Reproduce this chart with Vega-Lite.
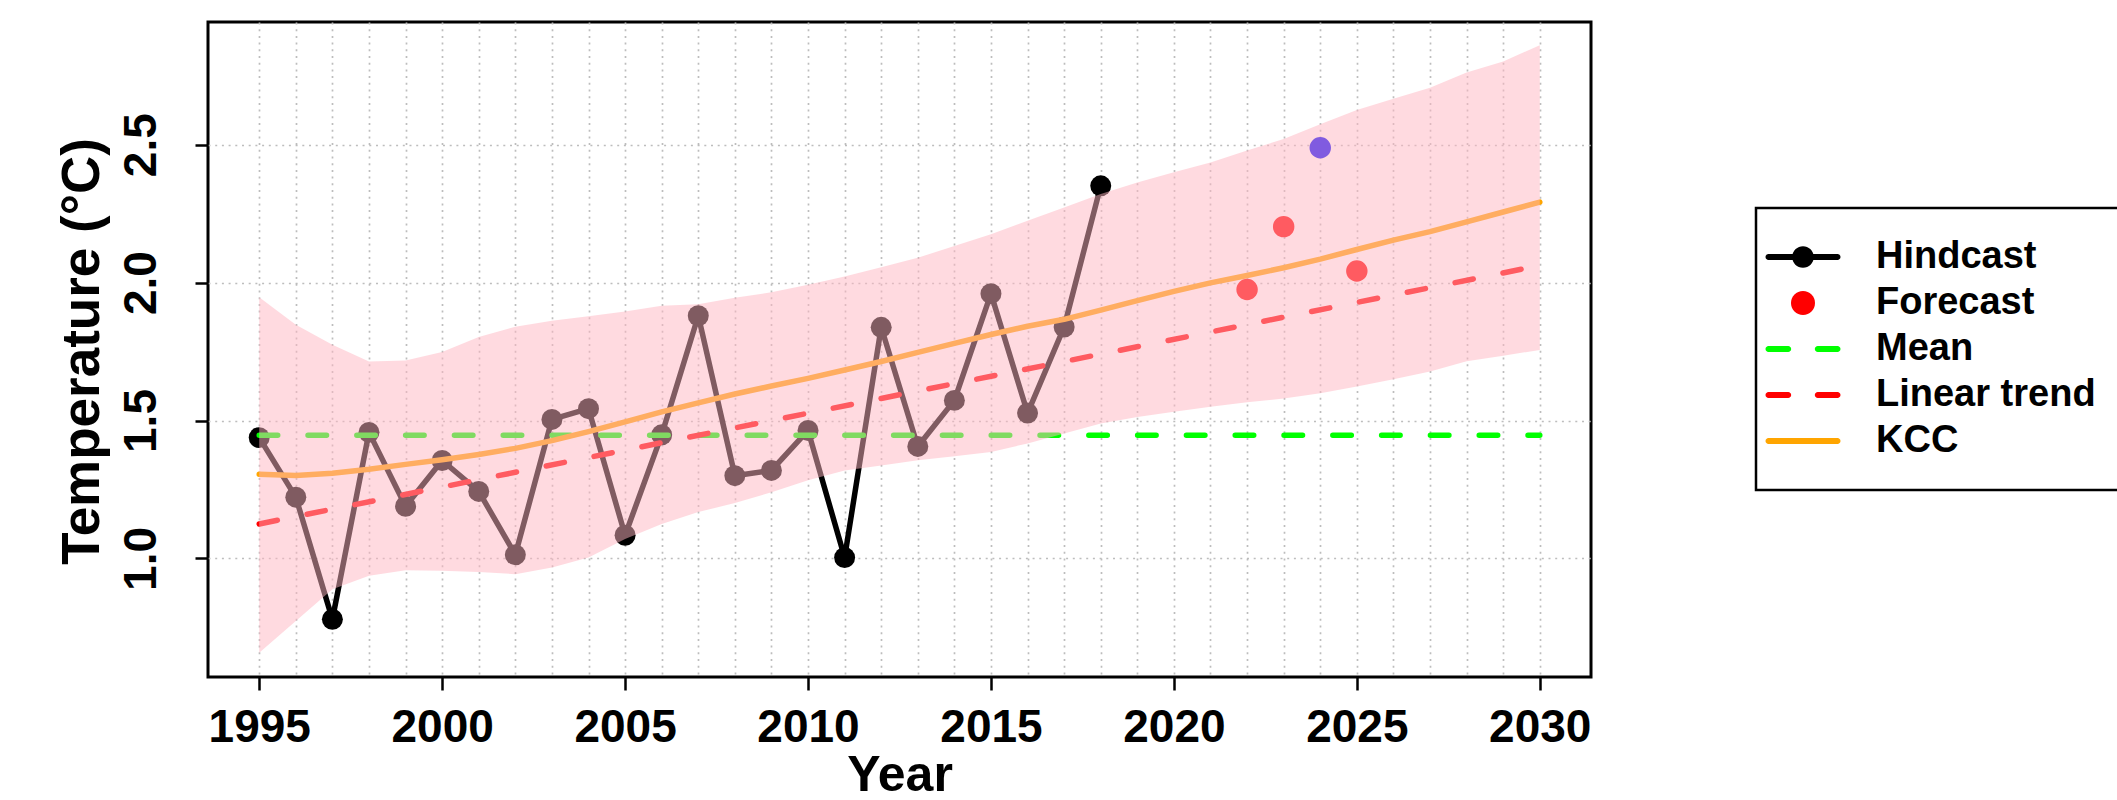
{
  "$schema": "https://vega.github.io/schema/vega-lite/v6.json",
  "width": 1383,
  "height": 655,
  "autosize": {"type": "none"},
  "padding": {"left": 208, "top": 22, "right": 526, "bottom": 123},
  "background": "white",
  "datasets": {
    "hind": [
      {"year": 1995, "temp": 1.438}, {"year": 1996, "temp": 1.222}, {"year": 1997, "temp": 0.779},
      {"year": 1998, "temp": 1.457}, {"year": 1999, "temp": 1.189}, {"year": 2000, "temp": 1.355},
      {"year": 2001, "temp": 1.243}, {"year": 2002, "temp": 1.013}, {"year": 2003, "temp": 1.504},
      {"year": 2004, "temp": 1.543}, {"year": 2005, "temp": 1.084}, {"year": 2006, "temp": 1.448},
      {"year": 2007, "temp": 1.880}, {"year": 2008, "temp": 1.300}, {"year": 2009, "temp": 1.319},
      {"year": 2010, "temp": 1.464}, {"year": 2011, "temp": 1.003}, {"year": 2012, "temp": 1.838},
      {"year": 2013, "temp": 1.406}, {"year": 2014, "temp": 1.573}, {"year": 2015, "temp": 1.960},
      {"year": 2016, "temp": 1.527}, {"year": 2017, "temp": 1.839}, {"year": 2018, "temp": 2.351}
    ],
    "fc": [
      {"year": 2022, "temp": 1.975, "type": "Forecast"},
      {"year": 2023, "temp": 2.203, "type": "Forecast"},
      {"year": 2024, "temp": 2.489, "type": "Observed"},
      {"year": 2025, "temp": 2.042, "type": "Forecast"}
    ],
    "mean": [{"year": 1995, "temp": 1.447}, {"year": 2030, "temp": 1.447}],
    "trend": [{"year": 1995, "temp": 1.125}, {"year": 2030, "temp": 2.062}],
    "kcc": [
      {"year": 1995, "fit": 1.305, "lo": 0.658, "hi": 1.947},
      {"year": 1996, "fit": 1.301, "lo": 0.773, "hi": 1.847},
      {"year": 1997, "fit": 1.309, "lo": 0.888, "hi": 1.775},
      {"year": 1998, "fit": 1.323, "lo": 0.937, "hi": 1.714},
      {"year": 1999, "fit": 1.341, "lo": 0.957, "hi": 1.718},
      {"year": 2000, "fit": 1.358, "lo": 0.955, "hi": 1.748},
      {"year": 2001, "fit": 1.377, "lo": 0.951, "hi": 1.803},
      {"year": 2002, "fit": 1.399, "lo": 0.943, "hi": 1.840},
      {"year": 2003, "fit": 1.427, "lo": 0.967, "hi": 1.862},
      {"year": 2004, "fit": 1.460, "lo": 1.003, "hi": 1.878},
      {"year": 2005, "fit": 1.495, "lo": 1.070, "hi": 1.895},
      {"year": 2006, "fit": 1.531, "lo": 1.125, "hi": 1.916},
      {"year": 2007, "fit": 1.564, "lo": 1.168, "hi": 1.922},
      {"year": 2008, "fit": 1.596, "lo": 1.201, "hi": 1.945},
      {"year": 2009, "fit": 1.625, "lo": 1.240, "hi": 1.965},
      {"year": 2010, "fit": 1.653, "lo": 1.283, "hi": 1.992},
      {"year": 2011, "fit": 1.683, "lo": 1.319, "hi": 2.022},
      {"year": 2012, "fit": 1.714, "lo": 1.337, "hi": 2.056},
      {"year": 2013, "fit": 1.747, "lo": 1.356, "hi": 2.090},
      {"year": 2014, "fit": 1.780, "lo": 1.370, "hi": 2.133},
      {"year": 2015, "fit": 1.812, "lo": 1.386, "hi": 2.175},
      {"year": 2016, "fit": 1.842, "lo": 1.417, "hi": 2.224},
      {"year": 2017, "fit": 1.867, "lo": 1.453, "hi": 2.272},
      {"year": 2018, "fit": 1.900, "lo": 1.489, "hi": 2.321},
      {"year": 2019, "fit": 1.935, "lo": 1.513, "hi": 2.363},
      {"year": 2020, "fit": 1.968, "lo": 1.532, "hi": 2.400},
      {"year": 2021, "fit": 1.999, "lo": 1.550, "hi": 2.436},
      {"year": 2022, "fit": 2.026, "lo": 1.566, "hi": 2.479},
      {"year": 2023, "fit": 2.054, "lo": 1.580, "hi": 2.521},
      {"year": 2024, "fit": 2.085, "lo": 1.599, "hi": 2.574},
      {"year": 2025, "fit": 2.120, "lo": 1.623, "hi": 2.626},
      {"year": 2026, "fit": 2.154, "lo": 1.650, "hi": 2.667},
      {"year": 2027, "fit": 2.185, "lo": 1.678, "hi": 2.707},
      {"year": 2028, "fit": 2.220, "lo": 1.715, "hi": 2.762},
      {"year": 2029, "fit": 2.256, "lo": 1.735, "hi": 2.802},
      {"year": 2030, "fit": 2.292, "lo": 1.756, "hi": 2.861}
    ],
    "leg": [
      {"series": "Hindcast"}, {"series": "Forecast"}, {"series": "Mean"},
      {"series": "Linear trend"}, {"series": "KCC"}
    ]
  },
  "encoding": {
    "x": {
      "field": "year", "type": "quantitative",
      "scale": {"domain": [1993.6, 2031.4], "nice": false, "zero": false},
      "axis": {
        "values": [1995, 1996, 1997, 1998, 1999, 2000, 2001, 2002, 2003, 2004, 2005, 2006, 2007, 2008, 2009, 2010, 2011, 2012, 2013, 2014, 2015, 2016, 2017, 2018, 2019, 2020, 2021, 2022, 2023, 2024, 2025, 2026, 2027, 2028, 2029, 2030],
        "format": "d",
        "labelExpr": "datum.value % 5 === 0 ? datum.label : ''",
        "tickOpacity": {"condition": {"test": "datum.value % 5 === 0", "value": 1}, "value": 0},
        "grid": true,
        "tickSize": 13,
        "labelPadding": 15,
        "title": "Year",
        "titleX": 691.5,
        "titleY": 123,
        "titleBaseline": "bottom",
        "titleFontSize": 50
      }
    },
    "y": {
      "field": "temp", "type": "quantitative",
      "scale": {"domain": [0.57, 2.945], "nice": false, "zero": false},
      "axis": {
        "values": [1.0, 1.5, 2.0, 2.5],
        "format": ".1f",
        "grid": true,
        "tickSize": 13,
        "labelAngle": 270,
        "labelAlign": "center",
        "labelBaseline": "alphabetic",
        "labelPadding": 40,
        "title": "Temperature (°C)",
        "titleAngle": 270,
        "titleX": -110,
        "titleY": 329,
        "titleBaseline": "alphabetic",
        "titleFontSize": 53
      }
    }
  },
  "layer": [
    {
      "data": {"name": "hind"},
      "mark": {"type": "line", "color": "black", "strokeWidth": 5.5, "strokeCap": "round", "strokeJoin": "round"}
    },
    {
      "data": {"name": "hind"},
      "mark": {"type": "circle", "color": "black", "size": 440, "opacity": 1}
    },
    {
      "data": {"name": "mean"},
      "mark": {"type": "line", "color": "#00ff00", "strokeWidth": 5.5, "strokeCap": "round", "strokeDash": [18.5, 30.3]}
    },
    {
      "data": {"name": "trend"},
      "mark": {"type": "line", "color": "#ff0000", "strokeWidth": 5.5, "strokeCap": "round", "strokeDash": [18.5, 30.3]}
    },
    {
      "data": {"name": "kcc"},
      "mark": {"type": "line", "color": "#ffa500", "strokeWidth": 5.5, "strokeCap": "round", "strokeJoin": "round"},
      "encoding": {"y": {"field": "fit", "type": "quantitative"}}
    },
    {
      "data": {"name": "fc"},
      "transform": [{"filter": "datum.type === 'Forecast'"}],
      "mark": {"type": "circle", "color": "#ff0000", "size": 460, "opacity": 1}
    },
    {
      "data": {"name": "fc"},
      "transform": [{"filter": "datum.type === 'Observed'"}],
      "mark": {"type": "circle", "color": "#0000ff", "size": 460, "opacity": 1}
    },
    {
      "data": {"name": "kcc"},
      "mark": {"type": "area", "color": "#ffb6c1", "opacity": 0.5},
      "encoding": {
        "y": {"field": "hi", "type": "quantitative"},
        "y2": {"field": "lo"}
      }
    },
    {
      "data": {"name": "leg"},
      "mark": {"type": "point", "filled": true, "opacity": 1},
      "encoding": {
        "color": {
          "field": "series", "type": "nominal",
          "scale": {"domain": ["Hindcast", "Forecast", "Mean", "Linear trend", "KCC"], "range": ["#000000", "#ff0000", "#00ff00", "#ff0000", "#ffa500"]},
          "legend": {"title": null, "orient": "none", "legendX": 1548, "legendY": 186}
        },
        "shape": {
          "field": "series", "type": "nominal",
          "scale": {"domain": ["Hindcast", "Forecast", "Mean", "Linear trend", "KCC"], "range": [
            "M-1.865,-0.162H1.865A0.162,0.162 0 0,1 1.865,0.162H-1.865A0.162,0.162 0 0,1 -1.865,-0.162ZM-0.584,0A0.584,0.584 0 1,1 0.584,0A0.584,0.584 0 1,1 -0.584,0Z",
            "M-0.649,0A0.649,0.649 0 1,1 0.649,0A0.649,0.649 0 1,1 -0.649,0Z",
            "M-1.865,-0.162H-0.8A0.162,0.162 0 0,1 -0.8,0.162H-1.865A0.162,0.162 0 0,1 -1.865,-0.162ZM0.8,-0.162H1.865A0.162,0.162 0 0,1 1.865,0.162H0.8A0.162,0.162 0 0,1 0.8,-0.162Z",
            "M-1.865,-0.162H-0.8A0.162,0.162 0 0,1 -0.8,0.162H-1.865A0.162,0.162 0 0,1 -1.865,-0.162ZM0.8,-0.162H1.865A0.162,0.162 0 0,1 1.865,0.162H0.8A0.162,0.162 0 0,1 0.8,-0.162Z",
            "M-1.865,-0.162H1.865A0.162,0.162 0 0,1 1.865,0.162H-1.865A0.162,0.162 0 0,1 -1.865,-0.162Z"
          ]},
          "legend": {"title": null, "orient": "none", "legendX": 1548, "legendY": 186}
        }
      }
    }
  ],
  "config": {
    "font": "Liberation Sans",
    "view": {"stroke": "black", "strokeWidth": 3},
    "axis": {
      "zindex": 1,
      "domain": false,
      "gridColor": "#bdbdbd",
      "gridDash": [2, 4.7],
      "gridWidth": 1.7,
      "tickColor": "black",
      "tickWidth": 2.5,
      "labelFont": "Liberation Sans",
      "labelFontSize": 46,
      "labelFontWeight": "bold",
      "labelColor": "black",
      "labelFlush": false,
      "labelOverlap": false,
      "labelBound": false,
      "titleFont": "Liberation Sans",
      "titleFontWeight": "bold",
      "titleColor": "black",
      "titleAlign": "center"
    },
    "legend": {
      "padding": 30,
      "rowPadding": 8,
      "strokeColor": "black",
      "strokeWidth": 2.5,
      "fillColor": "white",
      "symbolSize": 1369,
      "symbolStrokeWidth": 0,
      "symbolStrokeColor": "transparent",
      "symbolOffset": -2,
      "labelOffset": 54,
      "labelFont": "Liberation Sans",
      "labelFontSize": 38,
      "labelFontWeight": "bold",
      "labelColor": "black",
      "labelLimit": 600
    }
  }
}
